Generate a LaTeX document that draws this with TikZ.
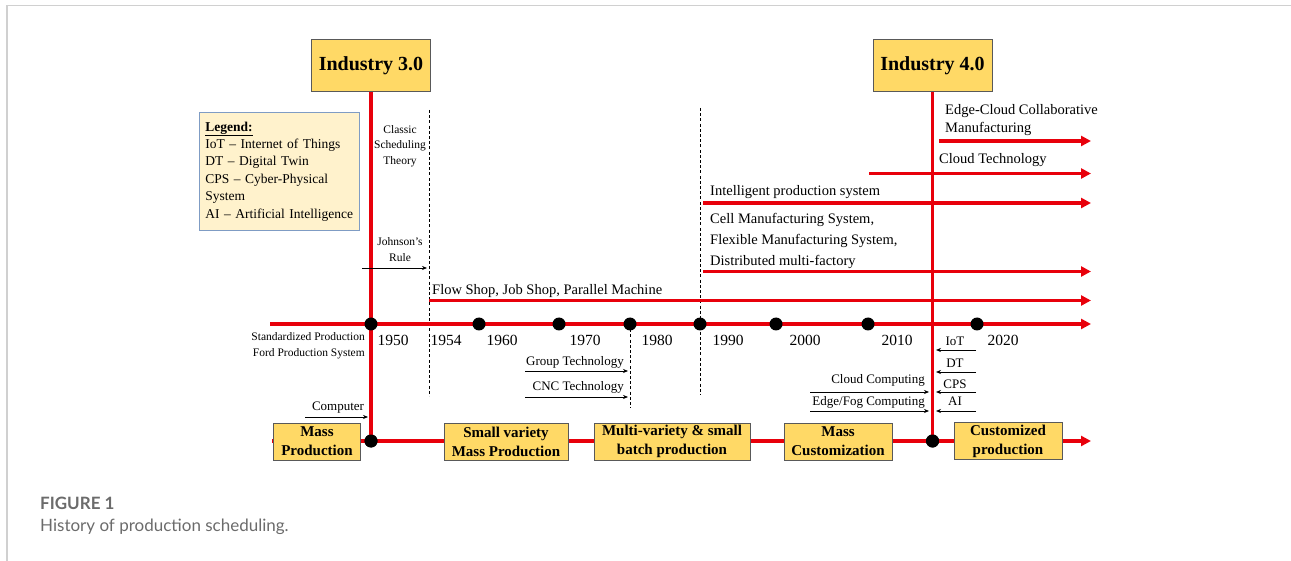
\documentclass[tikz,border=0pt]{standalone}
\usepackage{fontspec}
\setmainfont{Liberation Serif}
\newfontfamily\captionfont{Lato}
\usetikzlibrary{arrows.meta}

\definecolor{tlred}{HTML}{E8000B}
\definecolor{erafill}{HTML}{FFD966}
\definecolor{legendfill}{HTML}{FFF2CC}
\definecolor{legendedge}{HTML}{7F9CC4}
\definecolor{boxedge}{HTML}{595959}
\definecolor{captiongray}{HTML}{6B6B6B}
\definecolor{framegray}{HTML}{D0D0D0}

% font size helper: size and baseline skip in pt
\newcommand{\fsz}[2]{\fontsize{#1}{#2}\selectfont}

\tikzset{
  redline/.style={draw=tlred, line width=3.6pt},
  redarrow/.style={redline, -{Triangle[length=10pt,width=10pt]}},
  thinarrow/.style={draw=black, line width=0.7pt, -{Stealth[length=5pt,width=4pt]}},
  cutline/.style={draw=black, line width=0.8pt, dash pattern=on 3pt off 2.2pt},
  dot/.style={circle, fill=black, minimum size=13pt, inner sep=0pt},
  industry/.style={draw=boxedge, fill=erafill, line width=1pt, minimum width=119pt,
    minimum height=52pt, inner sep=0pt, font=\fsz{20}{24}\bfseries},
  era/.style={draw=boxedge, fill=erafill, line width=0.8pt, minimum height=37pt,
    inner sep=0pt, align=center, font=\fsz{15}{19}\bfseries},
  legendbox/.style={draw=legendedge, fill=legendfill, line width=0.9pt, text width=148pt,
    inner xsep=6pt, inner ysep=0pt, minimum height=118pt, align=left, font=\fsz{13.5}{17.4}},
  yearlbl/.style={inner sep=0pt, font=\fsz{15.5}{18}},
  trendtxt/.style={inner sep=0pt, font=\fsz{14.5}{21}, align=left},
  notetxt/.style={inner sep=0pt, font=\fsz{13}{16}},
  smalltxt/.style={inner sep=0pt, font=\fsz{11.5}{15.5}, align=center},
}

\begin{document}
\begin{tikzpicture}[x=1pt, y=-1pt]
\useasboundingbox (0,0) rectangle (1291,561);

% page frame
\coordinate (frTR) at (1291,5.5);
\coordinate (frTL) at (7,5.5);
\coordinate (frBL) at (7,561);
\draw[framegray, line width=1.5pt] (frTR) -- (frTL) -- (frBL);

% dashed period separators
\coordinate (cutAtop) at (429,110);  \coordinate (cutAbot) at (429,396);
\coordinate (cutCtop) at (700,108);  \coordinate (cutCbot) at (700,395);
\coordinate (cutBbot) at (630,408);
\draw[cutline] (cutAtop) -- (cutAbot);
\draw[cutline] (cutCtop) -- (cutCbot);
\draw[cutline] (630,324) -- (cutBbot);

% main time axis and production-paradigm axis
\coordinate (axisS) at (270,324);   \coordinate (axisE) at (1091,324);
\coordinate (paraS) at (272,441);   \coordinate (paraE) at (1091,441);
\draw[redarrow] (axisS) -- (axisE);
\draw[redarrow] (paraS) -- (paraE);

% scheduling trends
\coordinate (flowS) at (429,300.5);  \coordinate (flowE) at (1091,300.5);
\coordinate (cellS) at (703,271.5);  \coordinate (cellE) at (1091,271.5);
\coordinate (intS)  at (703,203);    \coordinate (intE)  at (1091,203);
\coordinate (cldS)  at (869,173.5);  \coordinate (cldE)  at (1091,173.5);
\coordinate (edgeS) at (939,141);    \coordinate (edgeE) at (1091,141);
\draw[redarrow] (flowS) -- (flowE);
\draw[redarrow] (cellS) -- (cellE);
\draw[redarrow] (intS) -- (intE);
\draw[redarrow] (cldS) -- (cldE);
\draw[redarrow] (edgeS) -- (edgeE);

\node[trendtxt, anchor=west] (flowtxt) at (432,291) {Flow Shop, Job Shop, Parallel Machine};
\node[trendtxt, anchor=west] (celltxt) at (710,241) {Cell Manufacturing System,\\Flexible Manufacturing System,\\Distributed multi-factory};
\node[trendtxt, anchor=west] (inttxt) at (710,192) {Intelligent production system};
\node[trendtxt, anchor=west] (cldtxt) at (939,160) {Cloud Technology};
\node[trendtxt, anchor=west, font=\fsz{14.5}{18}] (edgetxt) at (945,120) {Edge-Cloud Collaborative\\Manufacturing};

% industry milestones
\node[industry] (i3) at (371,65.5) {Industry 3.0};
\node[industry] (i4) at (932.5,65.5) {Industry 4.0};
\node[dot] (bA) at (371,441) {};
\node[dot] (bB) at (932.5,441) {};
\draw[redline] (i3.south) -- (bA.center);
\draw[redline] (i4.south) -- (bB.center);
\node[dot] at (bA) {};
\node[dot] at (bB) {};

% decade markers
\node[dot] (dA) at (371,324) {};
\node[dot] (dB) at (479,324) {};
\node[dot] (dC) at (559,324) {};
\node[dot] (dD) at (630,324) {};
\node[dot] (dE) at (700,324) {};
\node[dot] (dF) at (776,324) {};
\node[dot] (dG) at (868,324) {};
\node[dot] (dH) at (977,324) {};

\node[yearlbl] (y1950) at (393,340) {1950};
\node[yearlbl] (y1954) at (446,340) {1954};
\node[yearlbl] (y1960) at (502,340) {1960};
\node[yearlbl] (y1970) at (585,340) {1970};
\node[yearlbl] (y1980) at (657,340) {1980};
\node[yearlbl] (y1990) at (728,340) {1990};
\node[yearlbl] (y2000) at (805,340) {2000};
\node[yearlbl] (y2010) at (897,340) {2010};
\node[yearlbl] (y2020) at (1003,340) {2020};

% legend
\node[legendbox, anchor=north west] (legend) at (199,112)
  {\underline{\textbf{Legend:}}\\IoT -- Internet of Things\\DT -- Digital Twin\\CPS -- Cyber-Physical\\System\\AI -- Artificial Intelligence};

% early scheduling theory
\node[smalltxt] (classic) at (400,146) {Classic\\Scheduling\\Theory};
\node[smalltxt] (johnson) at (400,249.5) {Johnson's\\Rule};
\coordinate (johnS) at (362,268); \coordinate (johnE) at (427,268);
\draw[thinarrow] (johnS) -- (johnE);

\node[smalltxt, align=right, anchor=east, font=\fsz{11.5}{16}] (ford) at (365,346)
  {Standardized Production\\Ford Production System};

% enabling technologies
\node[notetxt] (computer) at (338,408) {Computer};
\coordinate (compS) at (305,417); \coordinate (compE) at (368,417);
\draw[thinarrow] (compS) -- (compE);

\node[notetxt, anchor=east] (gt) at (624,362) {Group Technology};
\node[notetxt, anchor=east] (cnc) at (624,387) {CNC Technology};
\coordinate (gtS) at (525,371);  \coordinate (gtE) at (628,371);
\coordinate (cncS) at (525,397); \coordinate (cncE) at (628,397);
\draw[thinarrow] (gtS) -- (gtE);
\draw[thinarrow] (cncS) -- (cncE);

\node[notetxt, anchor=east] (cc) at (925,380) {Cloud Computing};
\node[notetxt, anchor=east] (efc) at (925,402) {Edge/Fog Computing};
\coordinate (ccS) at (810,392);  \coordinate (ccE) at (929,392);
\coordinate (efS) at (810,411);  \coordinate (efE) at (929,411);
\draw[thinarrow] (ccS) -- (ccE);
\draw[thinarrow] (efS) -- (efE);

\node[notetxt] (iot) at (955,341) {IoT};
\node[notetxt] (dt)  at (955,363) {DT};
\node[notetxt] (cps) at (955,384) {CPS};
\node[notetxt] (ai)  at (955,401) {AI};
\coordinate (iotS) at (976,350); \coordinate (iotE) at (936,350);
\coordinate (dtS)  at (976,372); \coordinate (dtE)  at (936,372);
\coordinate (cpsS) at (976,392); \coordinate (cpsE) at (936,392);
\coordinate (aiS)  at (976,411); \coordinate (aiE)  at (936,411);
\draw[thinarrow] (iotS) -- (iotE);
\draw[thinarrow] (dtS) -- (dtE);
\draw[thinarrow] (cpsS) -- (cpsE);
\draw[thinarrow] (aiS) -- (aiE);

% production paradigms
\node[era, minimum width=87pt]  (mass)     at (317,441.5)  {Mass\\Production};
\node[era, minimum width=124pt] (smallvar) at (506,441.5)  {Small variety\\Mass Production};
\node[era, minimum width=156pt] (multivar) at (672,441.5)  {Multi-variety \& small\\batch production};
\node[era, minimum width=108pt] (masscust) at (838,441.5)  {Mass\\Customization};
\node[era, minimum width=108pt] (custom)   at (1008,441)   {Customized\\production};

% caption
\node[anchor=west, inner sep=0pt, text=captiongray, font=\captionfont\bfseries\fsz{17}{20}] (figno) at (40,503) {FIGURE 1};
\node[anchor=west, inner sep=0pt, text=captiongray, font=\captionfont\fsz{17}{20}] (figcap) at (40,527) {History of production scheduling.};
\end{tikzpicture}
\end{document}
